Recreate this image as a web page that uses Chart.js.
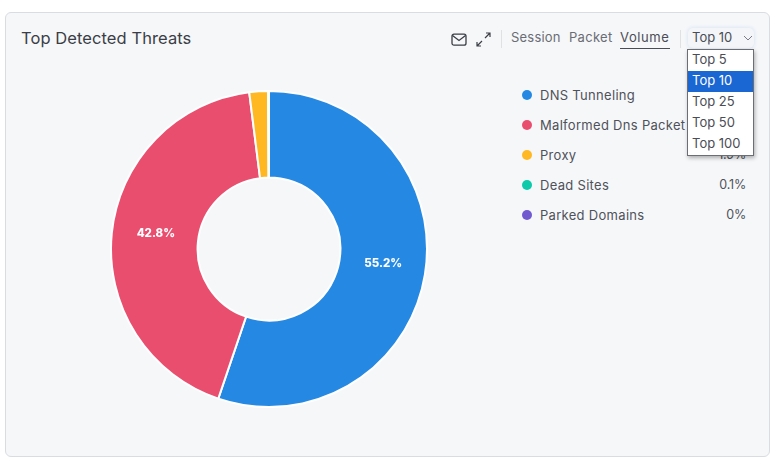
<!DOCTYPE html>
<html>
<head>
<meta charset="utf-8">
<script src="https://cdn.jsdelivr.net/npm/chart.js@4"></script>
<style>
html, body { margin: 0; padding: 0; background: #fff; width: 781px; height: 469px; overflow: hidden; }
body { font-family: Inter, "Open Sans", sans-serif; color: #4a4d55; position: relative; }
.card { position: absolute; left: 5px; top: 12px; width: 765px; height: 445px; background: #f6f7f9; border: 1px solid #d9dce1; border-radius: 6px; box-sizing: border-box; }
.abs { position: absolute; white-space: nowrap; }
#title { left: 21px; top: 27px; font-size: 16.5px; color: #3b3e46; line-height: 22px; letter-spacing: 0.08px; }
.tab { top: 28px; font-size: 13px; line-height: 18px; color: #6a6d75; letter-spacing: 0.2px; }
#tab1 { letter-spacing: 0.3px; }
#tab2 { color: #4a4d55; border-bottom: 1px solid #4a4d55; padding-bottom: 2px; letter-spacing: 0.6px; }
.sep { top: 30px; width: 1px; height: 18px; background: #dfe1e5; }
#chartBox { position: absolute; left: 109.5px; top: 89.5px; width: 318px; height: 318px; }
.legRow { position: absolute; left: 522px; width: 224px; height: 20px; font-size: 13px; line-height: 20px; color: #4f525a; letter-spacing: 0.3px; }
.legRow i { position: absolute; left: 0; top: 5px; width: 10px; height: 10px; border-radius: 50%; }
.legRow span { position: absolute; left: 18px; }
.legRow b { position: absolute; right: 0; font-weight: 400; font-size: 12.5px; letter-spacing: -0.2px; }
#selectBox { left: 688px; top: 28px; width: 66px; height: 20px; background: #f3f5f8; border-radius: 5px; box-shadow: 0 0 4px #cfe0f5; font-size: 13px; line-height: 19px; color: #4a4d55; text-indent: 4px; }
#selectBox svg { position: absolute; right: 1px; top: 7px; }
#menu { left: 687px; top: 49px; width: 67px; background: #fff; border: 1px solid #6b6e75; box-sizing: border-box; box-shadow: 1px 2px 4px rgba(0,0,0,.3); }
#menu div { height: 21px; line-height: 19px; font-size: 13px; padding-left: 4px; color: #4a4d55; }
#menu div.on { background: #1a66d2; color: #fff; }
</style>
</head>
<body>
<div class="card"></div>
<div class="abs" id="title">Top Detected Threats</div>

<svg class="abs" style="left:451px;top:33px" width="16" height="14" viewBox="0 0 16 14" fill="none" stroke="#3b3e46" stroke-width="1.3"><rect x="1" y="1.2" width="14" height="11" rx="2"/><path d="M1.5 2.5 L8 7.5 L14.5 2.5"/></svg>
<svg class="abs" style="left:476px;top:32px" width="15" height="15" viewBox="0 0 15 15" fill="none" stroke="#3b3e46" stroke-width="1.2"><path d="M9 6 L14 1 M10 1 H14 V5 M6 9 L1 14 M1 10 V14 H5"/></svg>
<div class="abs sep" style="left:501px"></div>
<div class="abs tab" id="tab0" style="left:511px"></div>
<div class="abs tab" id="tab1" style="left:569px"></div>
<div class="abs tab" id="tab2" style="left:620px"></div>
<div class="abs sep" style="left:680px"></div>

<div id="chartBox"><canvas id="threatChart"></canvas></div>
<div id="legend"></div>

<div class="abs" id="selectBox"><svg width="10" height="7" viewBox="0 0 10 7" fill="none" stroke="#7a7d85" stroke-width="1"><path d="M1 1 L5 5 L9 1"/></svg></div>
<div class="abs" id="menu"></div>

<script>
var categories = ['DNS Tunneling', 'Malformed Dns Packet', 'Proxy', 'Dead Sites', 'Parked Domains'];
var shares = [55.2, 42.8, 1.9, 0.1, 0];
var shareLabels = ['55.2%', '42.8%', '1.9%', '0.1%', '0%'];
var colors = ['#2589e3', '#ea4e6f', '#ffb822', '#0ccaaa', '#7159d0'];
var tabs = ['Session', 'Packet', 'Volume'];
var topOptions = ['Top 5', 'Top 10', 'Top 25', 'Top 50', 'Top 100'];
var selectedTop = 'Top 10';

tabs.forEach(function (t, i) {
    document.getElementById('tab' + i).textContent = t;
});

document.getElementById('selectBox').insertAdjacentText('afterbegin', selectedTop);

var menu = document.getElementById('menu');
topOptions.forEach(function (t) {
    var d = document.createElement('div');
    d.textContent = t;
    if (t === selectedTop) d.className = 'on';
    menu.appendChild(d);
});

var legend = document.getElementById('legend');
categories.forEach(function (name, i) {
    var row = document.createElement('div');
    row.className = 'legRow';
    row.style.top = (85 + i * 30) + 'px';
    row.innerHTML = '<i style="background:' + colors[i] + '"></i><span>' + name + '</span><b>' + shareLabels[i] + '</b>';
    legend.appendChild(row);
});

// percent labels on the big slices
var sliceLabels = {
    id: 'sliceLabels',
    afterDatasetsDraw: function (chart) {
        var c = chart.ctx;
        chart.getDatasetMeta(0).data.forEach(function (arc, i) {
            if (shares[i] < 5) return;
            var p = arc.tooltipPosition();
            c.save();
            c.font = '800 11.5px Inter, sans-serif';
            c.fillStyle = '#fff';
            c.textAlign = 'center';
            c.textBaseline = 'middle';
            c.fillText(shareLabels[i], p.x + 1, p.y - 4);
            c.restore();
        });
    }
};

var ctx = document.getElementById('threatChart').getContext('2d');

new Chart(ctx, {
    type: 'doughnut',
    data: {
        labels: categories,
        datasets: [{
            data: shares,
            backgroundColor: colors,
            borderColor: '#ffffff',
            borderWidth: 2
        }]
    },
    options: {
        responsive: true,
        maintainAspectRatio: false,
        animation: false,
        cutout: '45.2%',
        plugins: {
            legend: { display: false },
            tooltip: { enabled: false }
        }
    },
    plugins: [sliceLabels]
});
</script>
</body>
</html>
